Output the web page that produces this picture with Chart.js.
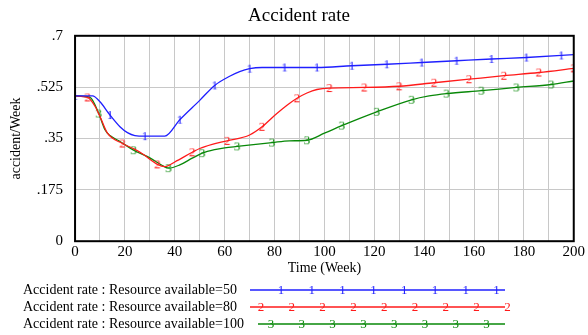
<!DOCTYPE html>
<html lang="en">
<head>
    <meta charset="UTF-8">
    <title>Accident rate</title>
    <script src="https://cdn.jsdelivr.net/npm/chart.js"></script>
    <style>
        html, body { margin: 0; padding: 0; background: #fff; }
        #wrap { width: 588px; height: 335px; position: relative; }
    </style>
</head>
<body>
    <div id="wrap"><canvas id="accidentChart"></canvas></div>

    <script>
        // Données (semaines / valeurs)
        const weeks50 = [0, 7, 10, 14, 18, 21, 24, 28, 36, 42, 50, 56, 62, 66, 70, 75, 84, 97, 111, 125, 139, 153, 167, 181, 195, 200];
        const rate50 = [0.495, 0.495, 0.475, 0.43, 0.39, 0.37, 0.36, 0.358, 0.358, 0.414, 0.48, 0.531, 0.562, 0.578, 0.588, 0.592, 0.592, 0.592, 0.598, 0.603, 0.609, 0.615, 0.621, 0.626, 0.633, 0.636];
        const marks50 = [0, 14, 28, 42, 56, 70, 84, 97, 111, 125, 139, 153, 167, 181, 195];

        const weeks80 = [0, 5, 8, 10, 13, 19, 24, 27, 33, 36, 40, 47, 50, 55, 61, 70, 75, 80, 85, 89, 93, 97, 102, 116, 130, 144, 158, 172, 186, 200];
        const rate80 = [0.495, 0.49, 0.46, 0.425, 0.368, 0.333, 0.313, 0.298, 0.262, 0.254, 0.27, 0.303, 0.316, 0.33, 0.342, 0.362, 0.39, 0.428, 0.463, 0.487, 0.505, 0.517, 0.522, 0.524, 0.528, 0.54, 0.552, 0.564, 0.575, 0.589];
        const marks80 = [5, 19, 33, 47, 61, 75, 89, 102, 116, 130, 144, 158, 172, 186, 200];

        const weeks100 = [0, 6, 9.5, 12, 14, 18, 23.5, 30, 35, 37.5, 42, 47, 51, 56, 60, 65, 79, 86, 93, 100, 107, 121, 135, 142, 149, 163, 177, 191, 200];
        const rate100 = [0.495, 0.49, 0.435, 0.38, 0.36, 0.34, 0.31, 0.284, 0.258, 0.249, 0.26, 0.283, 0.3, 0.312, 0.318, 0.323, 0.336, 0.342, 0.344, 0.368, 0.394, 0.441, 0.482, 0.495, 0.503, 0.513, 0.524, 0.534, 0.546];
        const marks100 = [9.5, 23.5, 37.5, 51, 65, 79, 93, 107, 121, 135, 149, 163, 177, 191];

        const yTicks = [0, 0.175, 0.35, 0.525, 0.7];
        const yLabels = ['0', '.175', '.35', '.525', '.7'];

        const seriesNames = [
            'Accident rate : Resource available=50',
            'Accident rate : Resource available=80',
            'Accident rate : Resource available=100'
        ];
        const colors = ['#1f1fff', '#ff1a1a', '#088808'];
        const digits = ['1', '2', '3'];

        const serif = "'Liberation Serif', 'DejaVu Serif', serif";

        // Petit canvas avec le chiffre, utilisé comme marqueur
        function makeDigit(d, color) {
            const c = document.createElement('canvas');
            c.width = 12; c.height = 16;
            const g = c.getContext('2d');
            g.fillStyle = color;
            g.font = '13px ' + serif;
            g.textAlign = 'center';
            g.textBaseline = 'middle';
            g.fillText(d, 6, 8.5);
            return c;
        }

        function toPoints(xs, ys) {
            return xs.map((x, i) => ({ x: x, y: ys[i] }));
        }

        function makeDataset(i, xs, ys, marks) {
            const img = makeDigit(digits[i], colors[i]);
            return {
                label: seriesNames[i],
                data: toPoints(xs, ys),
                borderColor: colors[i],
                backgroundColor: colors[i],
                borderWidth: 1.3,
                cubicInterpolationMode: 'monotone',
                pointStyle: img,
                pointRadius: ctx => (ctx.raw && marks.includes(ctx.raw.x)) ? 6 : 0,
                pointHoverRadius: 0
            };
        }

        // Cadre noir + légende dessinée en bas
        const framePlugin = {
            id: 'frame',
            afterDatasetsDraw(chart) {
                const a = chart.chartArea;
                const ctx = chart.ctx;
                ctx.save();
                ctx.strokeStyle = '#000';
                ctx.lineWidth = 2;
                ctx.strokeRect(a.left, a.top, a.right - a.left, a.bottom - a.top);
                ctx.restore();
            },
            afterDraw(chart) {
                const ctx = chart.ctx;
                ctx.save();
                const rowsY = [290, 307, 324];
                const lineStart = [250, 250, 258];
                const firstMark = [281, 261, 271];
                const nMarks = [8, 9, 8];
                for (let i = 0; i < 3; i++) {
                    ctx.fillStyle = '#000';
                    ctx.font = '14px ' + serif;
                    ctx.textBaseline = 'middle';
                    ctx.textAlign = 'left';
                    ctx.fillText(seriesNames[i], 23, rowsY[i]);
                    ctx.strokeStyle = colors[i];
                    ctx.lineWidth = 1.3;
                    ctx.beginPath();
                    ctx.moveTo(lineStart[i], rowsY[i]);
                    ctx.lineTo(505, rowsY[i]);
                    ctx.stroke();
                    ctx.fillStyle = colors[i];
                    ctx.font = '13px ' + serif;
                    ctx.textAlign = 'center';
                    for (let k = 0; k < nMarks[i]; k++) {
                        ctx.fillText(digits[i], firstMark[i] + k * 30.8, rowsY[i] + 0.5);
                    }
                }
                ctx.restore();
            }
        };

        const ctx = document.getElementById('accidentChart').getContext('2d');
        const chart = new Chart(ctx, {
            type: 'line',
            data: {
                datasets: [
                    makeDataset(0, weeks50, rate50, marks50),
                    makeDataset(1, weeks80, rate80, marks80),
                    makeDataset(2, weeks100, rate100, marks100)
                ]
            },
            options: {
                responsive: true,
                maintainAspectRatio: false,
                animation: false,
                layout: { padding: { left: 8, right: -2, top: 0, bottom: 58 } },
                plugins: {
                    legend: { display: false },
                    tooltip: { enabled: false },
                    title: {
                        display: true,
                        text: 'Accident rate',
                        color: '#000',
                        font: { family: serif, size: 19, weight: 'normal' },
                        padding: { top: 5, bottom: 8 }
                    }
                },
                scales: {
                    x: {
                        type: 'linear',
                        min: 0,
                        max: 200,
                        grid: { color: '#c8c8c8', lineWidth: 1, tickLength: 0 },
                        border: { display: false },
                        ticks: {
                            stepSize: 10,
                            autoSkip: false,
                            maxRotation: 0,
                            padding: 3,
                            color: '#000',
                            font: { family: serif, size: 15, lineHeight: 1 },
                            callback: v => (v % 20 === 0 ? String(v) : '')
                        },
                        title: {
                            display: true,
                            text: 'Time (Week)',
                            color: '#000',
                            font: { family: serif, size: 14 },
                            padding: { top: -2, bottom: 0 }
                        }
                    },
                    y: {
                        min: 0,
                        max: 0.7,
                        afterBuildTicks: axis => { axis.ticks = yTicks.map(v => ({ value: v })); },
                        grid: { color: '#c8c8c8', lineWidth: 1, tickLength: 0 },
                        border: { display: false },
                        ticks: {
                            padding: 12,
                            color: '#000',
                            font: { family: serif, size: 15 },
                            callback: v => yLabels[yTicks.indexOf(v)]
                        },
                        title: {
                            display: true,
                            text: 'accident/Week',
                            color: '#000',
                            font: { family: serif, size: 14 },
                            padding: { top: 0, bottom: 0 }
                        }
                    }
                }
            },
            plugins: [framePlugin]
        });
    </script>
</body>
</html>
